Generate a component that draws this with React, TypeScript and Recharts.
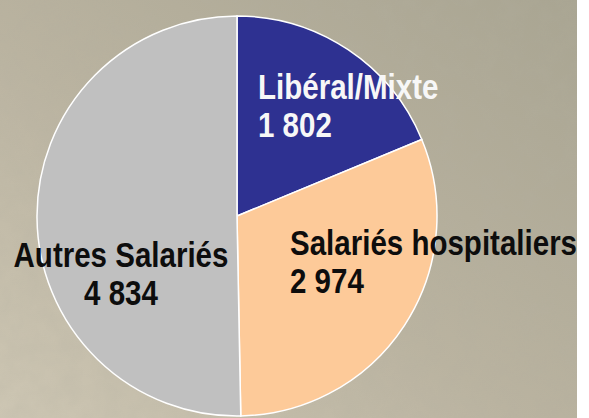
import React from "react";
import { PieChart, Pie, Cell } from "recharts";

const categories = ["Libéral/Mixte", "Salariés hospitaliers", "Autres Salariés"];
const values = [1802, 2974, 4834];

const COLORS = ["#2e3191", "#fdca99", "#c0c0c0"];
const LABEL_COLORS = ["#f7f7f7", "#0d0d0d", "#0d0d0d"];
// label layout relative to pie centre, in fractions of the outer radius
const LABEL_LAYOUT = [
  { fx: 0.105, fy: -0.585, anchor: "start" },
  { fx: 0.265, fy: 0.195, anchor: "start" },
  { fx: -0.58, fy: 0.255, anchor: "middle" },
];

const data = categories.map((name, i) => ({ name, value: values[i] }));

const fmt = (v: number) => String(v).replace(/\B(?=(\d{3})+(?!\d))/g, " ");

const FONT = "'Liberation Sans', Arial, sans-serif";

const renderLabel = (props: any) => {
  const { cx, cy, outerRadius, index, name, value } = props;
  const l = LABEL_LAYOUT[index];
  const x = cx + l.fx * outerRadius;
  const y = cy + l.fy * outerRadius;
  return (
    <g transform={`translate(${x},${y}) scale(0.82,1)`}>
      <text
        x={0}
        y={0}
        textAnchor={l.anchor}
        fill={LABEL_COLORS[index]}
        fontFamily={FONT}
        fontWeight="bold"
        fontSize={36}
      >
        <tspan x={0} dy={0}>{name}</tspan>
        <tspan x={0} dy={38}>{fmt(value)}</tspan>
      </text>
    </g>
  );
};

export default function App() {
  return (
    <div style={{ position: "relative", width: 589, height: 418, background: "#ffffff", overflow: "hidden" }}>
      <style>{`body{margin:0}`}</style>
      <svg width={577} height={418} style={{ position: "absolute", left: 0, top: 0 }}>
        <defs>
          <linearGradient id="bg" x1="0" y1="1" x2="1" y2="0">
            <stop offset="0%" stopColor="#cdc6b3" />
            <stop offset="45%" stopColor="#bab3a0" />
            <stop offset="100%" stopColor="#a9a592" />
          </linearGradient>
          <filter id="noise" x="0" y="0" width="100%" height="100%">
            <feTurbulence type="fractalNoise" baseFrequency="0.05" numOctaves="3" seed="4" />
            <feColorMatrix type="matrix" values="0 0 0 0 0.45  0 0 0 0 0.43  0 0 0 0 0.36  0 0 0 0.9 -0.25" />
          </filter>
        </defs>
        <rect x={0} y={0} width={577} height={418} fill="url(#bg)" />
        <rect x={0} y={0} width={577} height={418} filter="url(#noise)" opacity={0.35} />
      </svg>
      <div style={{ position: "absolute", left: 0, top: 0 }}>
        <PieChart width={589} height={418} margin={{ top: 0, right: 0, bottom: 0, left: 0 }}>
          <Pie
            data={data}
            dataKey="value"
            nameKey="name"
            cx={237}
            cy={216}
            outerRadius={200}
            startAngle={90}
            endAngle={-270}
            stroke="#ffffff"
            strokeWidth={1.5}
            label={renderLabel}
            labelLine={false}
            isAnimationActive={false}
          >
            {data.map((d, i) => (
              <Cell key={d.name} fill={COLORS[i]} />
            ))}
          </Pie>
        </PieChart>
      </div>
    </div>
  );
}
